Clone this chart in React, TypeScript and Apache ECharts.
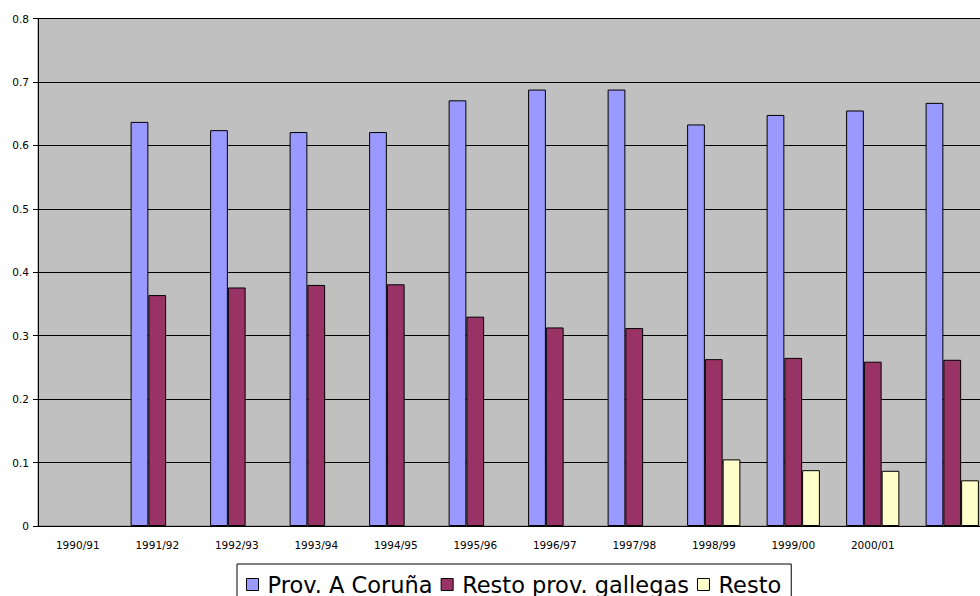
import React, { useEffect, useRef } from "react";
import * as echarts from "echarts";

const categories = ["1990/91", "1991/92", "1992/93", "1993/94", "1994/95", "1995/96", "1996/97", "1997/98", "1998/99", "1999/00", "2000/01", ""];
const seriesNames = ["Prov. A Coruña", "Resto prov. gallegas", "Resto"];
const coruna = [null, 0.637, 0.624, 0.621, 0.621, 0.671, 0.688, 0.688, 0.633, 0.648, 0.655, 0.667];
const restoGalicia = [null, 0.364, 0.376, 0.380, 0.381, 0.330, 0.313, 0.312, 0.263, 0.265, 0.259, 0.262];
const resto = [null, null, null, null, null, null, null, null, 0.105, 0.088, 0.087, 0.072];
const colors = ["#9999FF", "#993366", "#FFFFCC"];

export default function App() {
  const ref = useRef<HTMLDivElement>(null);
  useEffect(() => {
    document.body.style.margin = "0";
    const chart = echarts.init(ref.current!, null, { renderer: "svg" });
    const font = "DejaVu Sans";
    const values = [coruna, restoGalicia, resto];
    chart.setOption({
      animation: false,
      backgroundColor: "#ffffff",
      grid: {
        left: 38,
        top: 18.5,
        width: 954,
        height: 507.5,
        show: true,
        backgroundColor: "#C0C0C0",
        borderColor: "#808080",
        borderWidth: 1,
      },
      legend: {
        left: 237,
        top: 564,
        data: seriesNames,
        icon: "rect",
        itemWidth: 12,
        itemHeight: 12,
        itemGap: 8,
        padding: [9, 10, 8, 9],
        borderColor: "#000",
        borderWidth: 1,
        backgroundColor: "#fff",
        textStyle: { fontFamily: font, fontSize: 22.5, color: "#000", padding: [0, 0, 0, 4] },
        itemStyle: { borderColor: "#000", borderWidth: 1 },
      },
      xAxis: {
        type: "category",
        data: categories,
        axisLine: { lineStyle: { color: "#000", width: 1 } },
        axisTick: { length: 4, lineStyle: { color: "#000" }, interval: 0 },
        axisLabel: { interval: 0, margin: 13, fontFamily: font, fontSize: 10.5, color: "#000" },
      },
      yAxis: {
        type: "value",
        min: 0,
        max: 0.8,
        interval: 0.1,
        axisLine: { show: true, lineStyle: { color: "#000", width: 1 } },
        axisTick: { show: true, length: 5, lineStyle: { color: "#000" } },
        splitLine: { show: true, lineStyle: { color: "#000", width: 1 } },
        axisLabel: { margin: 9, fontFamily: font, fontSize: 10.5, color: "#000" },
      },
      series: seriesNames.map((name, i) => ({
        name,
        type: "bar",
        data: values[i],
        barGap: "0%",
        barCategoryGap: "33%",
        itemStyle: { color: colors[i], borderColor: "#000", borderWidth: 1 },
      })),
    });
    return () => chart.dispose();
  }, []);
  return (
    <div style={{ width: 980, height: 596, overflow: "hidden", position: "relative" }}>
      <div ref={ref} style={{ width: 1000, height: 596 }} />
    </div>
  );
}
